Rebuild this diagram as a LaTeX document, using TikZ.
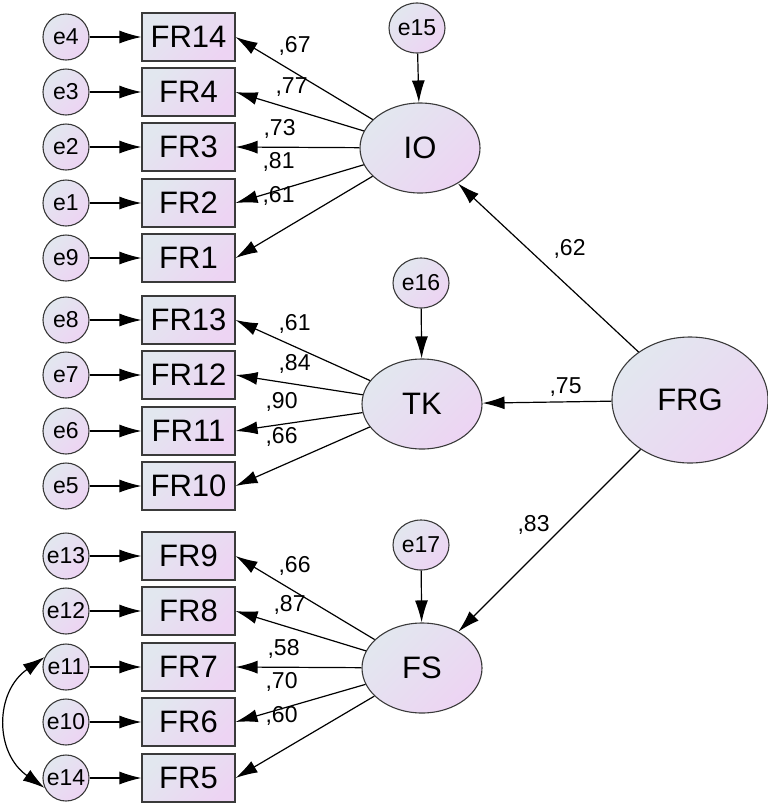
\documentclass[tikz,border=0pt]{standalone}
\usepackage{fontspec}
\setmainfont{Liberation Sans}
\usetikzlibrary{arrows.meta,shapes.geometric,positioning}
\definecolor{shadetl}{HTML}{E2E7EF}
\definecolor{shadebr}{HTML}{EDD4F3}
\definecolor{rimgray}{HTML}{3A3A3A}
\tikzset{
        semnode/.style = {draw=rimgray, line width=1.1pt, inner sep=0pt,
            top color=shadetl, bottom color=shadebr, shading angle=45},
        err_n/.style = {semnode, circle, minimum size=46pt,
            font=\fontsize{23}{25}\selectfont},
        dist_n/.style = {semnode, ellipse, minimum width=56pt,
            minimum height=50pt, font=\fontsize{23}{25}\selectfont},
        obs_n/.style = {semnode, rectangle, minimum width=93pt,
            minimum height=48pt, font=\fontsize{31}{33}\selectfont},
        lat_n/.style = {semnode, ellipse, minimum width=120pt,
            minimum height=90pt, font=\fontsize{31}{33}\selectfont},
        wgt/.style = {inner sep=0pt, anchor=base west,
            font=\fontsize{23}{25}\selectfont}
    }

\begin{document}
\begin{tikzpicture}[x=1pt,y=-1pt,line width=1.2pt,
        >={Latex[length=22pt,width=13pt]}]
    \useasboundingbox (0,0) rectangle (768,807);
    % latent variables
    \node [lat_n] (IO) at (420,148) {IO};
    \node [lat_n] (TK) at (422,404) {TK};
    \node [lat_n] (FS) at (422,668) {FS};
    \node [lat_n, minimum width=156pt, minimum height=126pt] (FRG) at (690,400) {FRG};
    \node [dist_n] (e15) at (417,28) {e15};
    \node [dist_n] (e16) at (421,283) {e16};
    \node [dist_n] (e17) at (421,545) {e17};
    \draw[->] (e15) -- (IO);
    \draw[->] (e16) -- (TK);
    \draw[->] (e17) -- (FS);
    % indicators
    \foreach \err/\item/\y/\lat/\wt/\wx/\wy in {
            e4/FR14/37/IO/67/278/52, e3/FR4/92/IO/77/275/93,
            e2/FR3/147/IO/73/263/135, e1/FR2/203/IO/81/262/168,
            e9/FR1/258/IO/61/262/202,
            e8/FR13/320/TK/61/278/330, e7/FR12/375/TK/84/278/370,
            e6/FR11/431/TK/90/265/408, e5/FR10/486/TK/66/265/443,
            e13/FR9/556/FS/66/278/572, e12/FR8/611/FS/87/273/611,
            e11/FR7/667/FS/58/267/655, e10/FR6/722/FS/70/265/688,
            e14/FR5/778/FS/60/265/722} {
        \node [err_n] (\err) at (66,\y) {\err};
        \node [obs_n] (\item) at (188.5,\y) {\item};
        \draw[->] (\err) -- (\item);
        \draw[->] (\lat) -- (\item.east);
        \node [wgt] (w\item) at (\wx,\wy) {,\wt};
    }
    % structural paths
    \draw[->] (FRG) -- (IO);
    \draw[->] (FRG) -- (TK);
    \draw[->] (FRG) -- (FS);
    \node [wgt] (wIO) at (553,255) {,62};
    \node [wgt] (wTK) at (549,393) {,75};
    \node [wgt] (wFS) at (517,531) {,83};
    \draw[<->] (e11.155) to[out=215,in=145,looseness=1.2] (e14.205);
\end{tikzpicture}
\end{document}
